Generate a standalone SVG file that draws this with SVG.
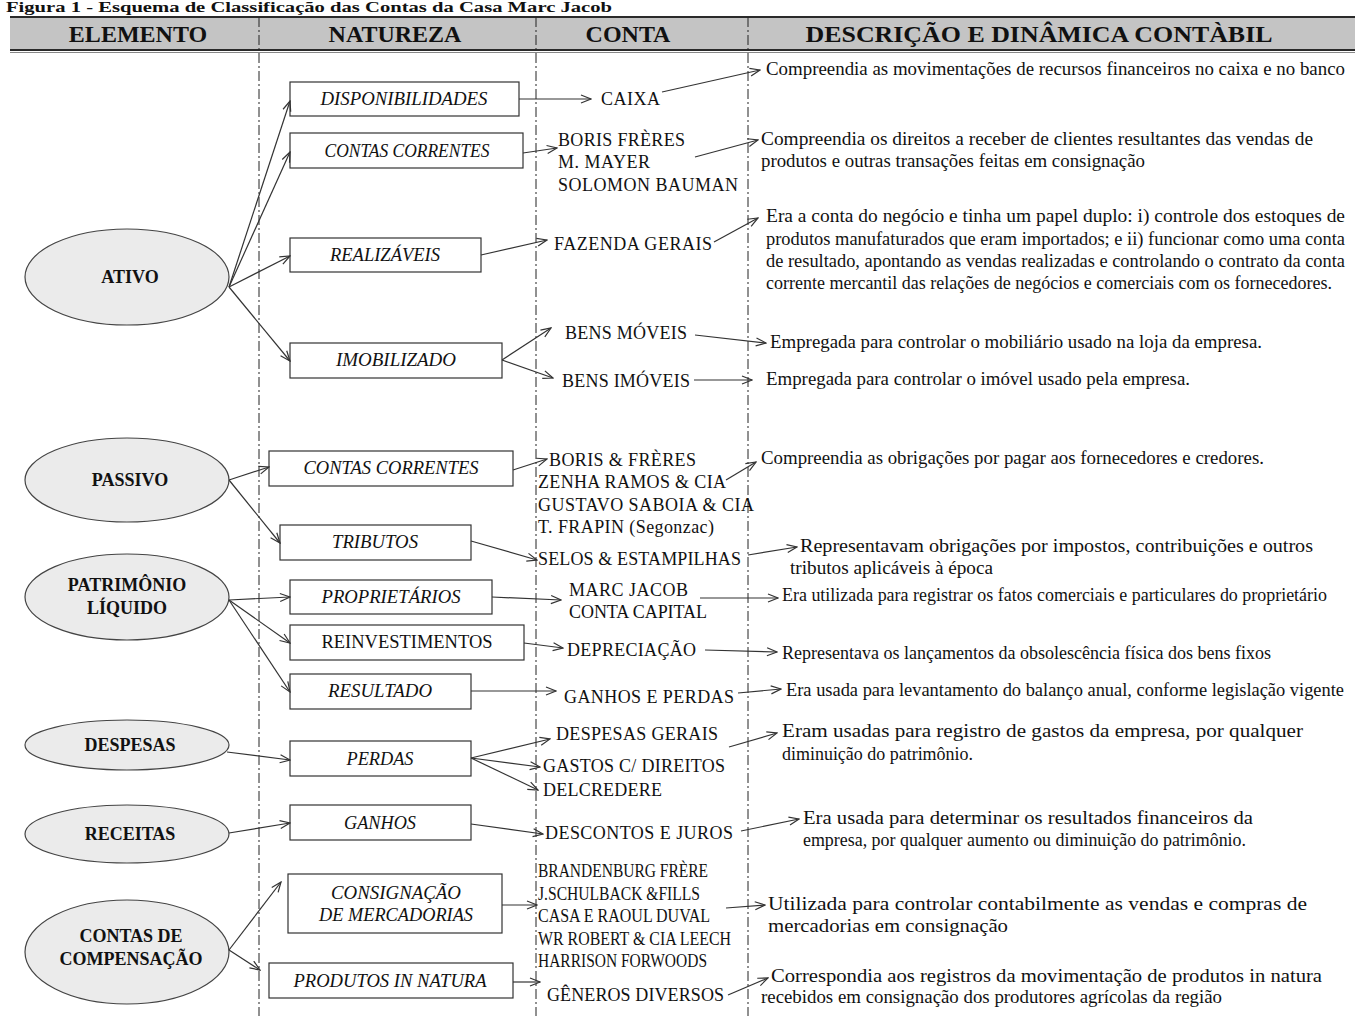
<svg xmlns="http://www.w3.org/2000/svg" width="1360" height="1016" viewBox="0 0 1360 1016">
<style>
.bg{fill:#ffffff}
.hdr{fill:#c4c4c4}
.hl{stroke:#2a2a2a;stroke-width:2;fill:none}
.vd{stroke:#222;stroke-width:1;stroke-dasharray:10 3 2 3;fill:none}
.el{fill:#ebebeb;stroke:#444;stroke-width:1.2}
.bx{fill:#ffffff;stroke:#333;stroke-width:1.2}
.c{stroke:#333;stroke-width:1.2;fill:none;marker-end:url(#ah)}
text{font-family:"Liberation Serif","Times New Roman",serif;fill:#111}
.h{font-size:24px;font-weight:bold;text-anchor:middle}
.t{font-size:15px;font-weight:bold}
.e{font-size:18px;font-weight:bold;text-anchor:middle}
.b{font-size:18px;font-style:italic;text-anchor:middle}
.br{font-size:18px;text-anchor:middle}
.k{font-size:18px}
.d{font-size:18.5px}
</style>
<defs>
<marker id="ah" markerUnits="userSpaceOnUse" markerWidth="12" markerHeight="10" viewBox="0 0 12 10" refX="11" refY="5" orient="auto">
<path d="M1,1 L11,5 L1,9" fill="none" stroke="#333" stroke-width="1.2"/>
</marker>
</defs>
<rect class="bg" x="0" y="0" width="1360" height="1016"/>
<text class="t" x="6" y="12" textLength="606" lengthAdjust="spacingAndGlyphs">Figura 1 - Esquema de Classificação das Contas da Casa Marc Jacob</text>

<g id="header">
<rect class="hdr" x="10" y="17" width="1345" height="33"/>
<line class="hl" x1="10" y1="17" x2="1355" y2="17"/>
<line class="hl" x1="10" y1="50" x2="1355" y2="50"/>
<line x1="10" y1="52.5" x2="1355" y2="52.5" stroke="#888" stroke-width="1"/>
<text class="h" x="138" y="42">ELEMENTO</text>
<text class="h" x="395" y="42">NATUREZA</text>
<text class="h" x="628" y="42">CONTA</text>
<text class="h" x="1039" y="42" textLength="467" lengthAdjust="spacingAndGlyphs">DESCRIÇÃO E DINÂMICA CONTÀBIL</text>
</g>

<g id="dividers">
<line class="vd" x1="259" y1="17" x2="259" y2="1016"/>
<line class="vd" x1="536" y1="17" x2="536" y2="1016"/>
<line class="vd" x1="748" y1="17" x2="748" y2="1016"/>
</g>

<g id="ativo"><ellipse class="el" cx="127" cy="277" rx="102" ry="48"/><text class="e" x="130" y="283">ATIVO</text></g>
<g id="passivo"><ellipse class="el" cx="127" cy="480" rx="102" ry="42"/><text class="e" x="130" y="486">PASSIVO</text></g>
<g id="patrimonio"><ellipse class="el" cx="127" cy="597" rx="102" ry="43"/><text class="e" x="127" y="591">PATRIMÔNIO</text><text class="e" x="127" y="614">LÍQUIDO</text></g>
<g id="despesas"><ellipse class="el" cx="127" cy="745" rx="102" ry="25"/><text class="e" x="130" y="751">DESPESAS</text></g>
<g id="receitas"><ellipse class="el" cx="127" cy="834" rx="102" ry="29"/><text class="e" x="130" y="840">RECEITAS</text></g>
<g id="compensacao"><ellipse class="el" cx="127" cy="952" rx="102" ry="52"/><text class="e" x="131" y="942">CONTAS DE</text><text class="e" x="131" y="965">COMPENSAÇÃO</text></g>

<g id="n-disponibilidades"><rect class="bx" x="290" y="82" width="229" height="34"/><text class="b" x="404" y="105" textLength="167" lengthAdjust="spacingAndGlyphs">DISPONIBILIDADES</text></g>
<g id="n-contas-correntes-a"><rect class="bx" x="290" y="133" width="233" height="35"/><text class="b" x="407" y="157" textLength="165" lengthAdjust="spacingAndGlyphs">CONTAS CORRENTES</text></g>
<g id="n-realizaveis"><rect class="bx" x="290" y="238" width="191" height="34"/><text class="b" x="385" y="261" textLength="110" lengthAdjust="spacingAndGlyphs">REALIZÁVEIS</text></g>
<g id="n-imobilizado"><rect class="bx" x="290" y="343" width="212" height="35"/><text class="b" x="396" y="366" textLength="120" lengthAdjust="spacingAndGlyphs">IMOBILIZADO</text></g>
<g id="n-contas-correntes-p"><rect class="bx" x="269" y="451" width="244" height="35"/><text class="b" x="391" y="474" textLength="175" lengthAdjust="spacingAndGlyphs">CONTAS CORRENTES</text></g>
<g id="n-tributos"><rect class="bx" x="280" y="525" width="191" height="35"/><text class="b" x="375" y="548" textLength="86" lengthAdjust="spacingAndGlyphs">TRIBUTOS</text></g>
<g id="n-proprietarios"><rect class="bx" x="290" y="580" width="202" height="34"/><text class="b" x="391" y="603" textLength="139" lengthAdjust="spacingAndGlyphs">PROPRIETÁRIOS</text></g>
<g id="n-reinvestimentos"><rect class="bx" x="290" y="625" width="234" height="35"/><text class="br" x="407" y="648" textLength="171" lengthAdjust="spacingAndGlyphs">REINVESTIMENTOS</text></g>
<g id="n-resultado"><rect class="bx" x="290" y="674" width="181" height="35"/><text class="b" x="380" y="697" textLength="104" lengthAdjust="spacingAndGlyphs">RESULTADO</text></g>
<g id="n-perdas"><rect class="bx" x="290" y="741" width="181" height="35"/><text class="b" x="380" y="765" textLength="67" lengthAdjust="spacingAndGlyphs">PERDAS</text></g>
<g id="n-ganhos"><rect class="bx" x="290" y="805" width="181" height="35"/><text class="b" x="380" y="829" textLength="72" lengthAdjust="spacingAndGlyphs">GANHOS</text></g>
<g id="n-consignacao"><rect class="bx" x="288" y="874" width="214" height="59"/><text class="b" x="396" y="899" textLength="130" lengthAdjust="spacingAndGlyphs">CONSIGNAÇÃO</text><text class="b" x="396" y="921" textLength="154" lengthAdjust="spacingAndGlyphs">DE MERCADORIAS</text></g>
<g id="n-produtos"><rect class="bx" x="269" y="963" width="244" height="35"/><text class="b" x="390" y="987" textLength="193" lengthAdjust="spacingAndGlyphs">PRODUTOS IN NATURA</text></g>

<g id="contas">
<text class="k" x="601" y="105" textLength="59">CAIXA</text>
<text class="k" x="558" y="146" textLength="127">BORIS FRÈRES</text>
<text class="k" x="558" y="168" textLength="92">M. MAYER</text>
<text class="k" x="558" y="191" textLength="180">SOLOMON BAUMAN</text>
<text class="k" x="554" y="250" textLength="158">FAZENDA GERAIS</text>
<text class="k" x="565" y="339" textLength="122">BENS MÓVEIS</text>
<text class="k" x="562" y="387" textLength="128">BENS IMÓVEIS</text>
<text class="k" x="549" y="466" textLength="147">BORIS &amp; FRÈRES</text>
<text class="k" x="538" y="488" textLength="188">ZENHA RAMOS &amp; CIA</text>
<text class="k" x="538" y="511" textLength="216">GUSTAVO SABOIA &amp; CIA</text>
<text class="k" x="538" y="533" textLength="176">T. FRAPIN (Segonzac)</text>
<text class="k" x="538" y="565" textLength="203">SELOS &amp; ESTAMPILHAS</text>
<text class="k" x="569" y="596" textLength="119">MARC JACOB</text>
<text class="k" x="569" y="618" textLength="138">CONTA CAPITAL</text>
<text class="k" x="567" y="656" textLength="129">DEPRECIAÇÃO</text>
<text class="k" x="564" y="703" textLength="170">GANHOS E PERDAS</text>
<text class="k" x="556" y="740" textLength="162">DESPESAS GERAIS</text>
<text class="k" x="543" y="772" textLength="182">GASTOS C/ DIREITOS</text>
<text class="k" x="543" y="796" textLength="119">DELCREDERE</text>
<text class="k" x="545" y="839" textLength="188">DESCONTOS E JUROS</text>
<text class="k" x="538" y="877" textLength="170" lengthAdjust="spacingAndGlyphs">BRANDENBURG FRÈRE</text>
<text class="k" x="538" y="900" textLength="162" lengthAdjust="spacingAndGlyphs">J.SCHULBACK &amp;FILLS</text>
<text class="k" x="538" y="922" textLength="172" lengthAdjust="spacingAndGlyphs">CASA E RAOUL DUVAL</text>
<text class="k" x="538" y="945" textLength="193" lengthAdjust="spacingAndGlyphs">WR ROBERT &amp; CIA LEECH</text>
<text class="k" x="538" y="967" textLength="169" lengthAdjust="spacingAndGlyphs">HARRISON FORWOODS</text>
<text class="k" x="547" y="1001" textLength="177">GÊNEROS DIVERSOS</text>
</g>

<g id="descricoes">
<text class="d" x="766" y="75" textLength="579" lengthAdjust="spacingAndGlyphs">Compreendia as movimentações de recursos financeiros no caixa e no banco</text>
<text class="d" x="761" y="145" textLength="552" lengthAdjust="spacingAndGlyphs">Compreendia os direitos a receber de clientes resultantes das vendas de</text>
<text class="d" x="761" y="167" textLength="384" lengthAdjust="spacingAndGlyphs">produtos e outras transações feitas em consignação</text>
<text class="d" x="766" y="222" textLength="579" lengthAdjust="spacingAndGlyphs">Era a conta do negócio e tinha um papel duplo: i) controle dos estoques de</text>
<text class="d" x="766" y="245" textLength="579" lengthAdjust="spacingAndGlyphs">produtos manufaturados que eram importados; e ii) funcionar como uma conta</text>
<text class="d" x="766" y="267" textLength="579" lengthAdjust="spacingAndGlyphs">de resultado, apontando as vendas realizadas e controlando o contrato da conta</text>
<text class="d" x="766" y="289" textLength="566" lengthAdjust="spacingAndGlyphs">corrente mercantil das relações de negócios e comerciais com os fornecedores.</text>
<text class="d" x="770" y="348" textLength="492" lengthAdjust="spacingAndGlyphs">Empregada para controlar o mobiliário usado na loja da empresa.</text>
<text class="d" x="766" y="385" textLength="424" lengthAdjust="spacingAndGlyphs">Empregada para controlar o imóvel usado pela empresa.</text>
<text class="d" x="761" y="464" textLength="503" lengthAdjust="spacingAndGlyphs">Compreendia as obrigações por pagar aos fornecedores e credores.</text>
<text class="d" x="800" y="552" textLength="513" lengthAdjust="spacingAndGlyphs">Representavam obrigações por impostos, contribuições e outros</text>
<text class="d" x="790" y="574" textLength="203" lengthAdjust="spacingAndGlyphs">tributos aplicáveis à época</text>
<text class="d" x="782" y="601" textLength="545" lengthAdjust="spacingAndGlyphs">Era utilizada para registrar os fatos comerciais e particulares do proprietário</text>
<text class="d" x="782" y="659" textLength="489" lengthAdjust="spacingAndGlyphs">Representava os lançamentos da obsolescência física dos bens fixos</text>
<text class="d" x="786" y="696" textLength="558" lengthAdjust="spacingAndGlyphs">Era usada para levantamento do balanço anual, conforme legislação vigente</text>
<text class="d" x="782" y="737" textLength="521" lengthAdjust="spacingAndGlyphs">Eram usadas para registro de gastos da empresa, por qualquer</text>
<text class="d" x="782" y="760" textLength="191" lengthAdjust="spacingAndGlyphs">diminuição do patrimônio.</text>
<text class="d" x="803" y="824" textLength="450" lengthAdjust="spacingAndGlyphs">Era usada para determinar os resultados financeiros da</text>
<text class="d" x="803" y="846" textLength="443" lengthAdjust="spacingAndGlyphs">empresa, por qualquer aumento ou diminuição do patrimônio.</text>
<text class="d" x="768" y="910" textLength="539" lengthAdjust="spacingAndGlyphs">Utilizada para controlar contabilmente as vendas e compras de</text>
<text class="d" x="768" y="932" textLength="240" lengthAdjust="spacingAndGlyphs">mercadorias em consignação</text>
<text class="d" x="771" y="982" textLength="551" lengthAdjust="spacingAndGlyphs">Correspondia aos registros da movimentação de produtos in natura</text>
<text class="d" x="761" y="1003" textLength="461" lengthAdjust="spacingAndGlyphs">recebidos em consignação dos produtores agrícolas da região</text>
</g>

<g id="connectors">
<line class="c" x1="229" y1="287" x2="290" y2="101"/>
<line class="c" x1="229" y1="287" x2="290" y2="152"/>
<line class="c" x1="229" y1="287" x2="290" y2="256"/>
<line class="c" x1="229" y1="287" x2="290" y2="361"/>
<line class="c" x1="519" y1="99" x2="591" y2="99"/>
<line class="c" x1="662" y1="92" x2="760" y2="70"/>
<line class="c" x1="523" y1="153" x2="557" y2="148"/>
<line class="c" x1="695" y1="157" x2="758" y2="140"/>
<line class="c" x1="481" y1="255" x2="547" y2="240"/>
<line class="c" x1="714" y1="242" x2="758" y2="218"/>
<line class="c" x1="502" y1="360" x2="551" y2="328"/>
<line class="c" x1="502" y1="360" x2="553" y2="378"/>
<line class="c" x1="695" y1="335" x2="766" y2="343"/>
<line class="c" x1="694" y1="380" x2="752" y2="380"/>
<line class="c" x1="229" y1="480" x2="269" y2="467"/>
<line class="c" x1="229" y1="480" x2="280" y2="543"/>
<line class="c" x1="513" y1="470" x2="547" y2="459"/>
<line class="c" x1="726" y1="480" x2="756" y2="462"/>
<line class="c" x1="471" y1="541" x2="537" y2="560"/>
<line class="c" x1="748" y1="555" x2="797" y2="547"/>
<line class="c" x1="229" y1="600" x2="290" y2="597"/>
<line class="c" x1="229" y1="600" x2="290" y2="643"/>
<line class="c" x1="229" y1="600" x2="290" y2="692"/>
<line class="c" x1="492" y1="597" x2="561" y2="600"/>
<line class="c" x1="700" y1="598" x2="778" y2="598"/>
<line class="c" x1="524" y1="643" x2="563" y2="648"/>
<line class="c" x1="705" y1="650" x2="777" y2="652"/>
<line class="c" x1="471" y1="691" x2="556" y2="691"/>
<line class="c" x1="738" y1="693" x2="781" y2="689"/>
<line class="c" x1="227" y1="752" x2="290" y2="760"/>
<line class="c" x1="471" y1="758" x2="550" y2="739"/>
<line class="c" x1="471" y1="758" x2="540" y2="767"/>
<line class="c" x1="471" y1="758" x2="538" y2="790"/>
<line class="c" x1="729" y1="747" x2="777" y2="733"/>
<line class="c" x1="229" y1="833" x2="290" y2="823"/>
<line class="c" x1="471" y1="824" x2="543" y2="834"/>
<line class="c" x1="741" y1="831" x2="799" y2="819"/>
<line class="c" x1="229" y1="950" x2="281" y2="882"/>
<line class="c" x1="229" y1="950" x2="260" y2="970"/>
<line class="c" x1="502" y1="905" x2="537" y2="905"/>
<line class="c" x1="726" y1="908" x2="765" y2="905"/>
<line class="c" x1="513" y1="982" x2="540" y2="982"/>
<line class="c" x1="728" y1="995" x2="768" y2="978"/>
</g>
</svg>
